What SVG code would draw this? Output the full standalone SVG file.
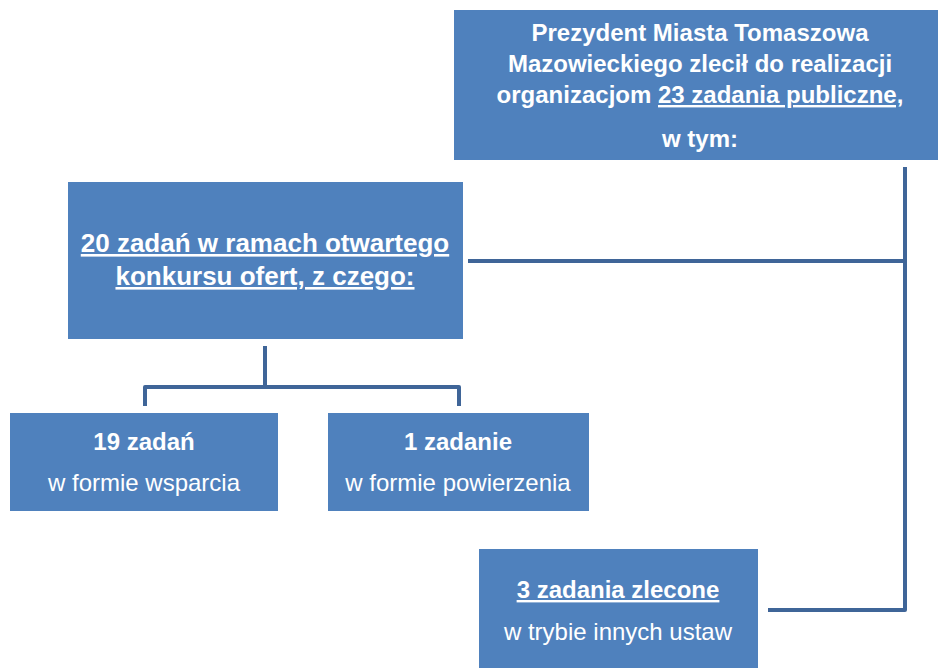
<svg xmlns="http://www.w3.org/2000/svg" width="938" height="668" viewBox="0 0 938 668">
<style>
.box{fill:#4f81bd;}
.t{font-family:"Liberation Sans",Arial,sans-serif;fill:#fff;text-anchor:middle;font-size:24px;}
.l{font-size:26px;}
.b{font-weight:bold;}
.u{text-decoration:underline;}
.c{fill:none;stroke:#3f6598;stroke-width:4;stroke-linejoin:round;stroke-linecap:butt;}
</style>
<rect width="938" height="668" fill="#fff"/>
<g id="connectors">
<path class="c" d="M905,167 V610 H768"/>
<path class="c" d="M468,261 H905"/>
<path class="c" d="M265,346 V387"/>
<path class="c" d="M145,406 V387 H459 V406"/>
</g>
<g id="node-top">
<rect class="box" x="454" y="10" width="484" height="150"/>
<text class="t b" x="700" y="41">Prezydent Miasta Tomaszowa</text>
<text class="t b" x="700" y="72">Mazowieckiego zlecił do realizacji</text>
<text class="t b" x="700" y="103">organizacjom <tspan class="u">23 zadania publiczne,</tspan></text>
<text class="t b" x="700" y="147">w tym:</text>
</g>
<g id="node-20">
<rect class="box" x="68" y="182" width="395" height="157"/>
<text class="t l b u" x="265" y="252">20 zadań w ramach otwartego</text>
<text class="t l b u" x="265" y="285">konkursu ofert, z czego:</text>
</g>
<g id="node-19">
<rect class="box" x="10" y="413" width="268" height="98"/>
<text class="t b" x="144" y="450">19 zadań</text>
<text class="t" x="144" y="491">w formie wsparcia</text>
</g>
<g id="node-1">
<rect class="box" x="328" y="413" width="261" height="98"/>
<text class="t b" x="458" y="450">1 zadanie</text>
<text class="t" x="458" y="491">w formie powierzenia</text>
</g>
<g id="node-3">
<rect class="box" x="479" y="549" width="279" height="119"/>
<text class="t b u" x="618" y="598">3 zadania zlecone</text>
<text class="t" x="618" y="640">w trybie innych ustaw</text>
</g>
</svg>
